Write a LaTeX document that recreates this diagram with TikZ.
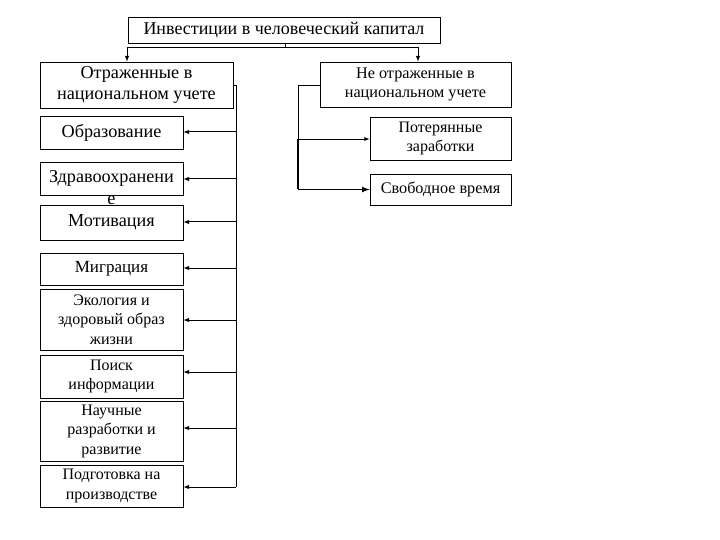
\documentclass[tikz,border=0pt]{standalone}
\usepackage{fontspec}
\setmainfont{Liberation Serif}
\begin{document}
\begin{tikzpicture}[x=1pt,y=-1pt,
  bx/.style={draw,line width=0.8pt,inner sep=0pt,align=center,font=\fontsize{16.2}{19}\selectfont},
  sm/.style={font=\fontsize{16}{19.5}\selectfont},
  big/.style={font=\fontsize{18.2}{21}\selectfont},
  ar/.style={-latex,line width=1pt}]
\useasboundingbox (0,0) rectangle (720,540);
\node[bx,minimum width=312,minimum height=26,font=\fontsize{18}{20}\selectfont] (top) at (284,30) {Инвестиции в человеческий капитал};
\node[bx,minimum width=193,minimum height=46,big] (l1) at (136.5,85) {Отраженные в\\национальном учете};
\node[bx,minimum width=191,minimum height=45] (r1) at (415.5,84.5) {Не отраженные в\\национальном учете};
\node[bx,minimum width=143,minimum height=33,big] (a1) at (111.5,132.5) {Образование};
\node[bx,minimum width=143,minimum height=33,big] (a2) at (111.5,178.5) {Здравоохранени};
\node[big] (a2e) at (111.5,200) {е};
\node[bx,minimum width=143,minimum height=35,big] (a3) at (111.5,222.5) {Мотивация};
\node[bx,minimum width=143,minimum height=32,font=\fontsize{17}{19}\selectfont] (a4) at (111.5,269) {Миграция};
\node[bx,minimum width=143,minimum height=61,sm] (a5) at (111.5,319.5) {Экология и\\здоровый образ\\жизни};
\node[bx,minimum width=143,minimum height=43,sm] (a6) at (111.5,376.5) {Поиск\\информации};
\node[bx,minimum width=143,minimum height=60,sm] (a7) at (111.5,431) {Научные\\разработки и\\развитие};
\node[bx,minimum width=143,minimum height=42,sm] (a8) at (111.5,486) {Подготовка на\\производстве};
\node[bx,minimum width=141,minimum height=43,sm] (b1) at (440.5,138.5) {Потерянные\\заработки};
\node[bx,minimum width=141,minimum height=31] (b2) at (440.5,189.5) {Свободное время};
\coordinate (t0) at (285,48);
\coordinate (lv0) at (236,85);
\coordinate (lv1) at (236,487);
\coordinate (rv0) at (298,85);
\coordinate (rv1) at (298,189.5);
\draw[line width=1pt] (top.south -| t0) -- (t0);
\draw[ar] (t0) -- (127,48) -- (l1.north -| 127,0);
\draw[ar] (t0) -- (418,48) -- (r1.north -| 418,0);
\draw[line width=0.8pt] (l1.east |- lv0) -- (lv0) -- (lv1);
\foreach \n/\y in {a1/132,a2/179,a3/222,a4/268,a5/320,a6/372,a7/428,a8/487}
  \draw[ar] (236,\y) -- (\n.east |- 0,\y);
\draw[line width=0.8pt] (r1.west |- rv0) -- (rv0) -- (298,139);
\draw[line width=1.6pt] (298,139) -- (rv1);
\draw[ar,line width=0.8pt] (298,139) -- (b1.west |- 0,139);
\draw[ar,line width=1.6pt] (rv1) -- (b2.west);
\end{tikzpicture}
\end{document}
